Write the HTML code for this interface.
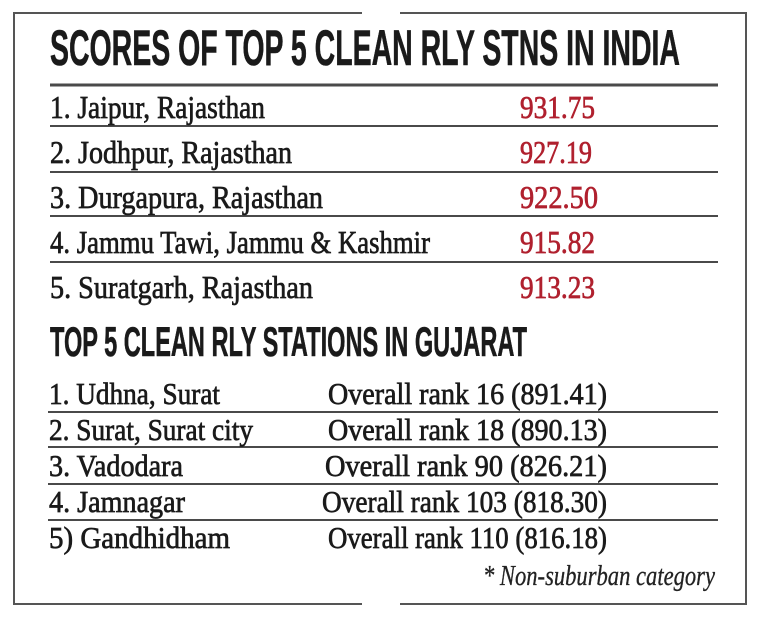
<!DOCTYPE html>
<html><head><meta charset="utf-8"><style>
html,body{margin:0;padding:0;background:#fff;}
svg{display:block;}
</style></head><body>
<svg width="759" height="620" viewBox="0 0 759 620" xmlns="http://www.w3.org/2000/svg">
<rect width="759" height="620" fill="#fff"/>
<g stroke="#555" stroke-width="2" fill="none">
<polyline points="362,13 14,13 14,604 362,604"/>
<polyline points="400,13 746,13 746,604 400,604"/>
</g>
<g font-family="Liberation Sans Narrow, Liberation Sans, sans-serif" font-weight="bold" fill="#1a1a1a" stroke="#1a1a1a" stroke-width="0.6">
<text x="50" y="65" font-size="50" textLength="630" lengthAdjust="spacingAndGlyphs">SCORES OF TOP 5 CLEAN RLY STNS IN INDIA</text>
<text x="50" y="356" font-size="42" textLength="477" lengthAdjust="spacingAndGlyphs">TOP 5 CLEAN RLY STATIONS IN GUJARAT</text>
</g>
<g stroke="#4a4a4a">
<line x1="50" y1="85" x2="718" y2="85" stroke-width="3"/>
<line x1="50" y1="126" x2="718" y2="126" stroke-width="2"/>
<line x1="50" y1="172" x2="718" y2="172" stroke-width="2"/>
<line x1="50" y1="216" x2="718" y2="216" stroke-width="2"/>
<line x1="50" y1="262" x2="718" y2="262" stroke-width="2"/>
<line x1="48" y1="412" x2="718" y2="412" stroke-width="2"/>
<line x1="48" y1="447" x2="718" y2="447" stroke-width="2"/>
<line x1="48" y1="484" x2="718" y2="484" stroke-width="2"/>
<line x1="48" y1="520" x2="718" y2="520" stroke-width="2"/>
</g>
<g font-family="Liberation Serif, serif" font-size="32" fill="#1a1a1a" stroke="#1a1a1a" stroke-width="0.7">
<text x="50" y="118" textLength="215" lengthAdjust="spacingAndGlyphs">1. Jaipur, Rajasthan</text>
<text x="50" y="163" textLength="242" lengthAdjust="spacingAndGlyphs">2. Jodhpur, Rajasthan</text>
<text x="50" y="208" textLength="273" lengthAdjust="spacingAndGlyphs">3. Durgapura, Rajasthan</text>
<text x="50" y="253" textLength="380" lengthAdjust="spacingAndGlyphs">4. Jammu Tawi, Jammu &amp; Kashmir</text>
<text x="50" y="298" textLength="263" lengthAdjust="spacingAndGlyphs">5. Suratgarh, Rajasthan</text>
</g>
<g font-family="Liberation Serif, serif" font-size="32" fill="#b0202e" stroke="#b0202e" stroke-width="0.7">
<text x="520" y="118" textLength="75" lengthAdjust="spacingAndGlyphs">931.75</text>
<text x="520" y="163" textLength="72" lengthAdjust="spacingAndGlyphs">927.19</text>
<text x="520" y="208" textLength="78" lengthAdjust="spacingAndGlyphs">922.50</text>
<text x="520" y="253" textLength="75" lengthAdjust="spacingAndGlyphs">915.82</text>
<text x="520" y="298" textLength="75" lengthAdjust="spacingAndGlyphs">913.23</text>
</g>
<g font-family="Liberation Serif, serif" font-size="31" fill="#1a1a1a" stroke="#1a1a1a" stroke-width="0.7">
<text x="49" y="404" textLength="171" lengthAdjust="spacingAndGlyphs">1. Udhna, Surat</text>
<text x="49" y="440" textLength="204" lengthAdjust="spacingAndGlyphs">2. Surat, Surat city</text>
<text x="49" y="476" textLength="134" lengthAdjust="spacingAndGlyphs">3. Vadodara</text>
<text x="49" y="512" textLength="136" lengthAdjust="spacingAndGlyphs">4. Jamnagar</text>
<text x="49" y="548" textLength="181" lengthAdjust="spacingAndGlyphs">5) Gandhidham</text>
<text x="328" y="404" textLength="279" lengthAdjust="spacingAndGlyphs">Overall rank 16 (891.41)</text>
<text x="328" y="440" textLength="279" lengthAdjust="spacingAndGlyphs">Overall rank 18 (890.13)</text>
<text x="325" y="476" textLength="282" lengthAdjust="spacingAndGlyphs">Overall rank 90 (826.21)</text>
<text x="322" y="512" textLength="285" lengthAdjust="spacingAndGlyphs">Overall rank 103 (818.30)</text>
<text x="328" y="548" textLength="279" lengthAdjust="spacingAndGlyphs">Overall rank 110 (816.18)</text>
</g>
<text x="483" y="585" font-family="Liberation Serif, serif" font-style="italic" font-size="28" fill="#222" stroke="#222" stroke-width="0.3" textLength="232" lengthAdjust="spacingAndGlyphs">* Non-suburban category</text>
</svg>
</body></html>
